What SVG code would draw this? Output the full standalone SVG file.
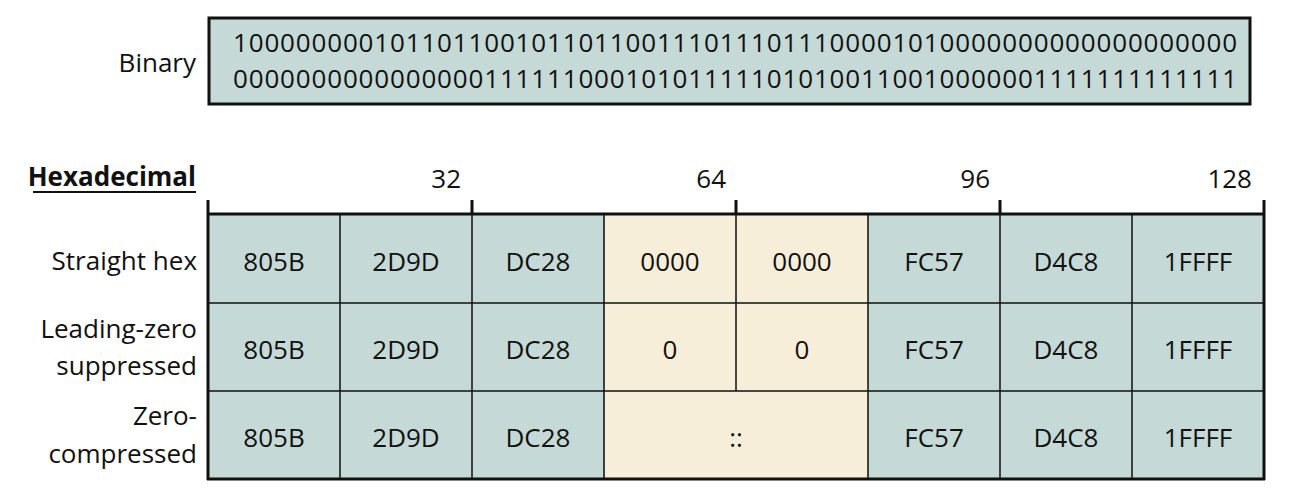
<svg xmlns="http://www.w3.org/2000/svg" width="1292" height="500" viewBox="0 0 1292 500">
<style>
text{font-family:"Open Sans","Noto Sans","Liberation Sans",sans-serif;fill:#111;font-size:26px}
.c{text-anchor:middle}
.r{text-anchor:end}
.t{fill:#c5d9d6}
.y{fill:#f6eed9}
.g{stroke:#111;stroke-width:1.5;fill:none}
.k{stroke:#111;stroke-width:3;fill:none}
</style>
<g id="binary">
<rect x="209" y="18" width="1041" height="86" fill="#c5d9d6" stroke="#111" stroke-width="3"/>
<text x="233" y="52" textLength="1004" lengthAdjust="spacing">1000000001011011001011011001110111011100001010000000000000000000</text>
<text x="233" y="88" textLength="1004" lengthAdjust="spacing">0000000000000000111111000101011111010100110010000001111111111111</text>
<text class="r" x="196" y="72">Binary</text>
</g>
<g id="header">
<text class="r" x="196" y="186" font-weight="bold">Hexadecimal</text>
<line x1="33" y1="192" x2="196" y2="192" stroke="#111" stroke-width="2"/>
<text class="r" x="461" y="188">32</text>
<text class="r" x="726" y="188">64</text>
<text class="r" x="990" y="188">96</text>
<text class="r" x="1252" y="188">128</text>
</g>
<g id="cells">
<rect class="t" x="209" y="214" width="396" height="265"/>
<rect class="y" x="605" y="214" width="263" height="265"/>
<rect class="t" x="868" y="214" width="396" height="265"/>
</g>
<g id="grid">
<path class="g" d="M340 214V479M472 214V479M604 214V479M736 214V391M868 214V479M1000 214V479M1132 214V479M209 303H1264M209 391H1264"/>
<path class="k" d="M208 200V480M1264 200V480M208 214H1264M207 479H1265M472 200V214M736 200V214M1000 200V214"/>
</g>
<g id="row1">
<text class="r" x="197" y="270">Straight hex</text>
<text class="c" x="274" y="271">805B</text>
<text class="c" x="406" y="271">2D9D</text>
<text class="c" x="538" y="271">DC28</text>
<text class="c" x="670" y="271">0000</text>
<text class="c" x="802" y="271">0000</text>
<text class="c" x="934" y="271">FC57</text>
<text class="c" x="1066" y="271">D4C8</text>
<text class="c" x="1198" y="271">1FFFF</text>
</g>
<g id="row2">
<text class="r" x="197" y="338">Leading-zero</text>
<text class="r" x="197" y="375">suppressed</text>
<text class="c" x="274" y="359">805B</text>
<text class="c" x="406" y="359">2D9D</text>
<text class="c" x="538" y="359">DC28</text>
<text class="c" x="670" y="359">0</text>
<text class="c" x="802" y="359">0</text>
<text class="c" x="934" y="359">FC57</text>
<text class="c" x="1066" y="359">D4C8</text>
<text class="c" x="1198" y="359">1FFFF</text>
</g>
<g id="row3">
<text class="r" x="197" y="425">Zero-</text>
<text class="r" x="197" y="463">compressed</text>
<text class="c" x="274" y="447">805B</text>
<text class="c" x="406" y="447">2D9D</text>
<text class="c" x="538" y="447">DC28</text>
<text class="c" x="736" y="447">::</text>
<text class="c" x="934" y="447">FC57</text>
<text class="c" x="1066" y="447">D4C8</text>
<text class="c" x="1198" y="447">1FFFF</text>
</g>
</svg>
